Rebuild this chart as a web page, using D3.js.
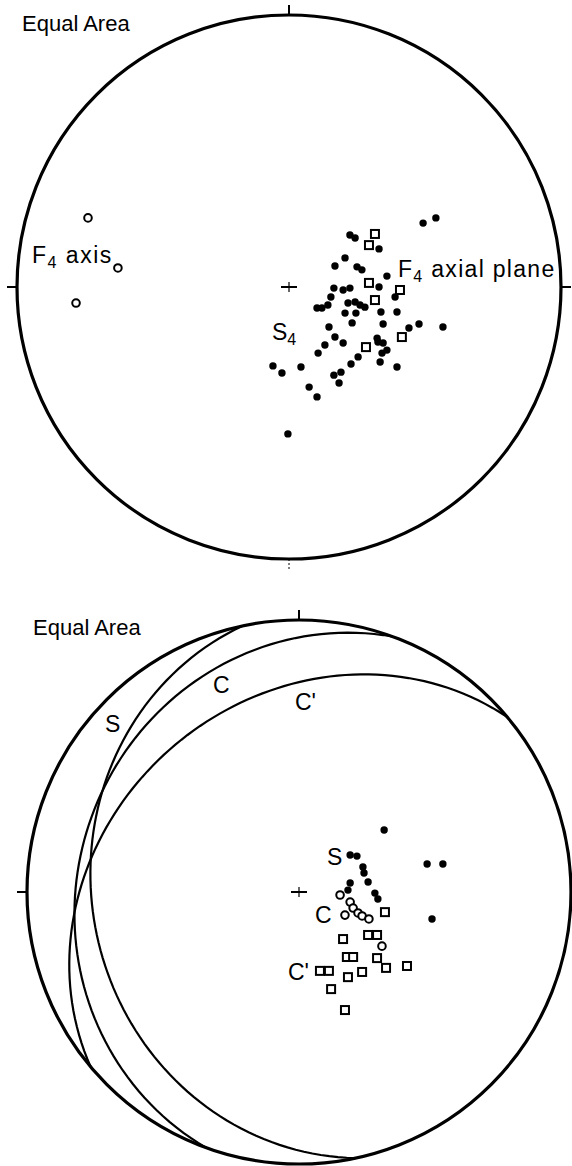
<!DOCTYPE html>
<html>
<head>
<meta charset="utf-8">
<script src="https://cdn.jsdelivr.net/npm/d3@7"></script>
<style>
  body { margin: 0; background: #fff; }
  svg text { font-family: "Liberation Sans", Arial, sans-serif; fill: #000; }
</style>
</head>
<body>
<svg id="chart" width="572" height="1166"></svg>
<script>
// positions are [east, north] in percent of the net radius
const s4Poles = [
  [49.3,23.5],[54.0,25.4],[22.4,19.1],[24.3,18.0],[33.1,14.0],[16.9,7.7],[20.6,10.7],
  [25.0,7.4],[26.8,6.3],[36.0,4.0],[33.1,0],[39.0,-3.7],[16.5,-0.4],[22.4,-0.4],
  [19.9,-1.1],[15.4,-3.7],[14.3,-6.6],[10.3,-7.7],[12.1,-7.7],[21.7,-5.9],[24.3,-5.5],
  [26.1,-6.6],[27.9,-7.4],[20.6,-9.6],[24.6,-9.6],[33.8,-9.2],[39.7,-9.2],[23.2,-13.2],
  [14.7,-14.7],[34.6,-13.6],[47.8,-13.6],[44.1,-15.1],[56.6,-14.7],[16.9,-18.4],
  [32.4,-18.8],[19.9,-20.6],[13.2,-21.3],[10.7,-24.3],[32.7,-20.2],[34.6,-20.6],
  [34.2,-24.3],[36.0,-23.2],[33.5,-27.6],[25.4,-25.7],[22.8,-28.3],[19.1,-31.3],
  [16.5,-32.4],[18.4,-35.3],[-5.9,-29.0],[-2.6,-31.6],[4.4,-29.4],[7.4,-36.8],
  [10.3,-40.4],[39.7,-29.4],[-0.4,-54.0]
];
const f4PlanePoles = [
  [31.6,19.5],[29.4,15.4],[29.4,1.5],[40.8,-1.1],[31.6,-4.8],[41.5,-18.4],[28.3,-22.1]
];
const f4Axes = [[-73.9,25.4],[-62.9,7.0],[-78.3,-5.9]];

const sPoles = [
  [18.8,13.6],[21.3,13.2],[31.3,22.8],[47.1,10.3],[52.9,10.3],[23.5,9.2],[23.9,7.0],
  [25.4,3.7],[18.8,3.3],[18.0,0.7],[27.9,-0.4],[29.0,-2.6],[48.9,-9.9]
];
const cPoles = [
  [15.1,-1.1],[18.8,-3.7],[19.9,-5.9],[16.9,-8.5],[21.7,-7.7],[23.2,-8.8],[25.7,-9.9],[30.5,-19.9]
];
const cPrimePoles = [
  [31.6,-7.4],[16.2,-17.3],[25.4,-15.8],[28.7,-15.8],[17.6,-23.9],[19.9,-23.9],[28.7,-24.3],
  [7.7,-29.0],[11.0,-29.0],[18.0,-31.3],[23.2,-29.4],[32.0,-27.9],[39.7,-27.2],
  [11.8,-35.7],[16.9,-43.4]
];
// mean planes: name, dip direction, dip
const planeNames = ['S', 'C', "C'"];
const planeDipDir = [258, 290, 320];
const planeDip = [25, 20, 30];

const svg = d3.select('#chart');

function makeNet(cx, cy, r, ticks) {
  const g = svg.append('g');
  const x = d3.scaleLinear().domain([-100, 100]).range([cx - r, cx + r]);
  const y = d3.scaleLinear().domain([-100, 100]).range([cy + r, cy - r]);
  const proj = d3.geoAzimuthalEqualArea()
    .rotate([0, -90]).clipAngle(90)
    .scale(r / Math.SQRT2).translate([cx, cy]);

  g.append('circle').attr('cx', cx).attr('cy', cy).attr('r', r)
    .attr('fill', 'none').attr('stroke', '#000').attr('stroke-width', 3.2);

  ticks.forEach(t => {
    const a = t * Math.PI / 180;
    g.append('line')
      .attr('x1', cx + r * Math.sin(a)).attr('y1', cy - r * Math.cos(a))
      .attr('x2', cx + (r + 10) * Math.sin(a)).attr('y2', cy - (r + 10) * Math.cos(a))
      .attr('stroke', '#000').attr('stroke-width', 2);
  });
  // centre cross
  g.append('line').attr('x1', cx - 8).attr('x2', cx + 8).attr('y1', cy).attr('y2', cy)
    .attr('stroke', '#000').attr('stroke-width', 2);
  g.append('line').attr('x1', cx).attr('x2', cx).attr('y1', cy - 5).attr('y2', cy + 5)
    .attr('stroke', '#000').attr('stroke-width', 1.2);
  return { g, x, y, proj };
}

function dots(net, data) {
  net.g.selectAll(null).data(data).enter().append('circle')
    .attr('cx', d => net.x(d[0])).attr('cy', d => net.y(d[1]))
    .attr('r', 3.7).attr('fill', '#000');
}
function rings(net, data) {
  net.g.selectAll(null).data(data).enter().append('circle')
    .attr('cx', d => net.x(d[0])).attr('cy', d => net.y(d[1]))
    .attr('r', 3.8).attr('fill', '#fff').attr('stroke', '#000').attr('stroke-width', 2);
}
function squares(net, data) {
  net.g.selectAll(null).data(data).enter().append('rect')
    .attr('x', d => net.x(d[0]) - 4).attr('y', d => net.y(d[1]) - 4)
    .attr('width', 8).attr('height', 8)
    .attr('fill', '#fff').attr('stroke', '#000').attr('stroke-width', 2);
}
function label(x, y, main, sub, rest, spacing) {
  const t = svg.append('text').attr('x', x).attr('y', y)
    .style('font-size', '23px').style('letter-spacing', (spacing || 0) + 'px');
  t.append('tspan').text(main);
  if (sub) t.append('tspan').attr('dy', 5).style('font-size', '16px').text(sub);
  if (rest) t.append('tspan').attr('dy', sub ? -5 : 0).text(rest);
  return t;
}

// ---- top net
const topNet = makeNet(289, 287, 272, [0, 90, 270]);
topNet.g.append('line').attr('x1', 289).attr('x2', 289).attr('y1', 559).attr('y2', 570)
  .attr('stroke', '#000').attr('stroke-width', 1).attr('stroke-dasharray', '2,2');
dots(topNet, s4Poles);
squares(topNet, f4PlanePoles);
rings(topNet, f4Axes);

svg.append('text').attr('x', 22).attr('y', 31).style('font-size', '22px').text('Equal Area');
label(32, 263, 'F', '4', '\u00a0axis', 1.5);
label(398, 277, 'F', '4', '\u00a0axial plane', 1.3);
label(272, 340, 'S', '4');

// ---- bottom net
const botNet = makeNet(299, 892, 272, [0, 270]);
const circle = d3.geoCircle().radius(90);
const path = d3.geoPath(botNet.proj);
planeNames.forEach((n, i) => {
  const trend = (planeDipDir[i] + 180) % 360;
  const plunge = 90 - planeDip[i];
  const ring = circle.center([180 - trend, plunge])().coordinates[0];
  botNet.g.append('path')
    .datum({ type: 'LineString', coordinates: ring })
    .attr('d', path)
    .attr('fill', 'none').attr('stroke', '#000').attr('stroke-width', 2.2);
});
dots(botNet, sPoles);
rings(botNet, cPoles);
squares(botNet, cPrimePoles);

svg.append('text').attr('x', 33).attr('y', 635).style('font-size', '22px').text('Equal Area');
label(105, 732, 'S');
label(213, 693, 'C');
label(295, 710, "C'");
label(327, 865, 'S');
label(315, 923, 'C');
label(288, 980, "C'");
</script>
</body>
</html>
